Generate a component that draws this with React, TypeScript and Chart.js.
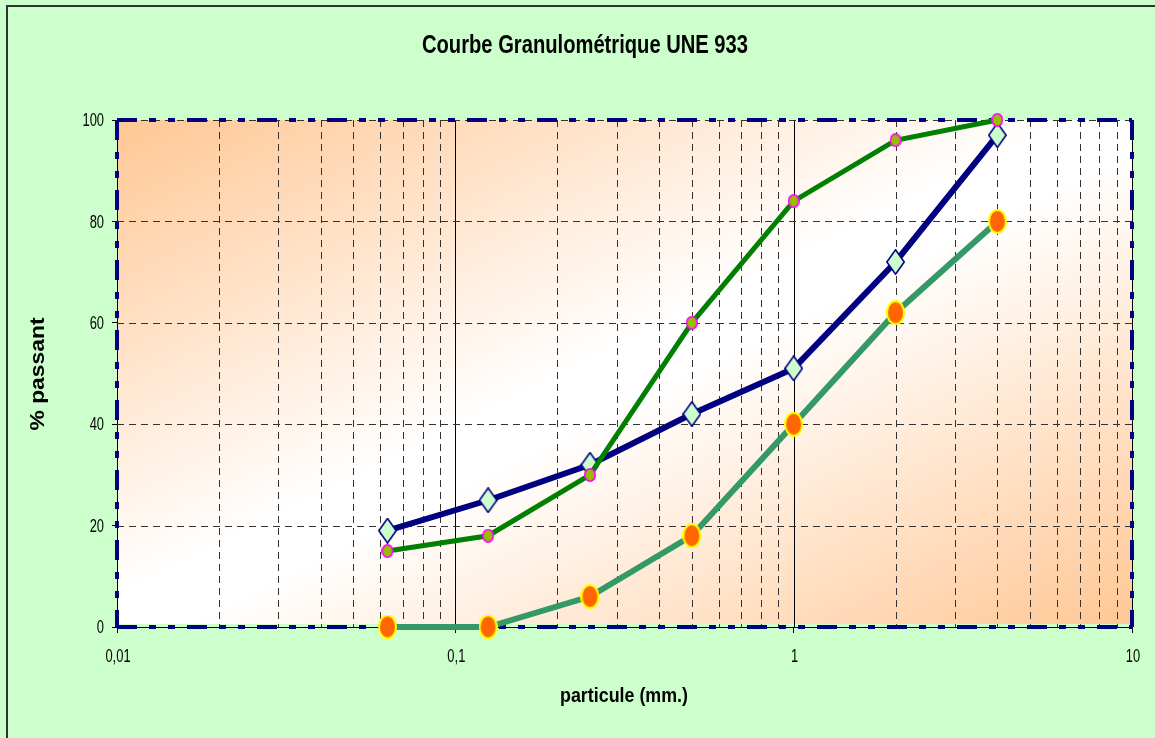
import React, { useEffect, useRef } from 'react';
import { Chart, registerables } from 'chart.js';

Chart.register(...registerables);

// ---- data ----
const sieveSizes = [0.063, 0.125, 0.25, 0.5, 1, 2, 4];
const seriesNavy = [19, 25, 32, 42, 51, 72, 97];
const seriesGreen = [15, 18, 30, 60, 84, 96, 100];
const seriesOrange = [0, 0, 6, 18, 40, 62, 80];

const xTickValues = [
  0.01, 0.02, 0.03, 0.04, 0.05, 0.06, 0.07, 0.08, 0.09,
  0.1, 0.2, 0.3, 0.4, 0.5, 0.6, 0.7, 0.8, 0.9,
  1, 2, 3, 4, 5, 6, 7, 8, 9,
  10,
];
const xDecades = [0.01, 0.1, 1, 10];
const xDecadeLabels = ['0,01', '0,1', '1', '10'];
const yTickValues = [0, 20, 40, 60, 80, 100];

const titleText = 'Courbe Granulométrique UNE 933';
const xTitleText = 'particule (mm.)';
const yTitleText = '% passant';

const decadeIndex = (v: number) => xDecades.findIndex((d) => Math.abs(v - d) / d < 1e-6);

const LABEL_FONT = '19px "Liberation Sans", Arial, sans-serif';
const LABEL_SQUEEZE = 0.68;

function makeMarker(w: number, h: number, kind: 'diamond' | 'ellipse', fill: string, stroke: string, lw: number) {
  const c = document.createElement('canvas');
  c.width = w;
  c.height = h;
  const ctx = c.getContext('2d')!;
  ctx.beginPath();
  if (kind === 'diamond') {
    ctx.moveTo(w / 2, lw / 2);
    ctx.lineTo(w - lw / 2, h / 2);
    ctx.lineTo(w / 2, h - lw / 2);
    ctx.lineTo(lw / 2, h / 2);
    ctx.closePath();
  } else {
    ctx.ellipse(w / 2, h / 2, w / 2 - lw / 2, h / 2 - lw / 2, 0, 0, Math.PI * 2);
  }
  ctx.fillStyle = fill;
  ctx.fill();
  ctx.lineWidth = lw;
  ctx.strokeStyle = stroke;
  ctx.stroke();
  return c;
}

function drawScaledText(
  ctx: CanvasRenderingContext2D,
  text: string,
  x: number,
  y: number,
  font: string,
  targetWidth: number,
  rotate = false
) {
  ctx.save();
  ctx.translate(x, y);
  if (rotate) ctx.rotate(-Math.PI / 2);
  ctx.font = font;
  const m = ctx.measureText(text).width;
  ctx.scale(targetWidth / m, 1);
  ctx.textAlign = 'center';
  ctx.textBaseline = 'alphabetic';
  ctx.fillStyle = '#000';
  ctx.fillText(text, 0, 0);
  ctx.restore();
}

function drawSqueezed(
  ctx: CanvasRenderingContext2D,
  text: string,
  x: number,
  y: number,
  align: 'center' | 'right',
  baseline: 'middle' | 'alphabetic'
) {
  ctx.save();
  ctx.translate(x, y);
  ctx.scale(LABEL_SQUEEZE, 1);
  ctx.font = LABEL_FONT;
  ctx.textAlign = align;
  ctx.textBaseline = baseline;
  ctx.fillStyle = '#000';
  ctx.fillText(text, 0, 0);
  ctx.restore();
}

const decorPlugin = {
  id: 'decor',
  beforeDraw(chart: any) {
    const { ctx, width, height, chartArea: a } = chart;
    ctx.save();
    ctx.fillStyle = '#CCFFCC';
    ctx.fillRect(0, 0, width, height);
    ctx.strokeStyle = '#333333';
    ctx.lineWidth = 2;
    ctx.beginPath();
    ctx.moveTo(7, height);
    ctx.lineTo(7, 6);
    ctx.lineTo(width, 6);
    ctx.stroke();

    const w = a.right - a.left;
    const h = a.bottom - a.top;
    const cx = (a.left + a.right) / 2;
    const cy = (a.top + a.bottom) / 2;
    const L = Math.hypot(w, h);
    const ux = h / L;
    const uy = w / L;
    const d = (w * h) / L;
    const g = ctx.createLinearGradient(cx - ux * d, cy - uy * d, cx + ux * d, cy + uy * d);
    g.addColorStop(0, '#FFC794');
    g.addColorStop(0.47, '#FFFFFF');
    g.addColorStop(0.53, '#FFFFFF');
    g.addColorStop(1, '#FFC794');
    ctx.fillStyle = g;
    ctx.fillRect(a.left, a.top, w, h - 3);
    ctx.restore();
  },
  beforeDatasetsDraw(chart: any) {
    const { ctx, chartArea: a, scales } = chart;
    const xs = scales.x;
    const ys = scales.y;
    ctx.save();
    ctx.lineWidth = 1;
    for (const v of xTickValues) {
      const px = Math.round(xs.getPixelForValue(v)) + 0.5;
      const dec = decadeIndex(v) >= 0;
      ctx.setLineDash(dec ? [] : [7, 5]);
      ctx.strokeStyle = dec ? '#000000' : '#333333';
      ctx.beginPath();
      ctx.moveTo(px, a.top);
      ctx.lineTo(px, a.bottom);
      ctx.stroke();
    }
    for (const v of yTickValues) {
      if (v === 0) continue;
      const py = Math.round(ys.getPixelForValue(v)) + 0.5;
      ctx.setLineDash([7, 5]);
      ctx.strokeStyle = '#333333';
      ctx.beginPath();
      ctx.moveTo(a.left, py);
      ctx.lineTo(a.right, py);
      ctx.stroke();
    }
    // navy dash-dot-dot plot border
    ctx.setLineDash([20, 12, 7, 12, 7, 12]);
    ctx.lineWidth = 4;
    ctx.strokeStyle = '#000080';
    const side = (x1: number, y1: number, x2: number, y2: number) => {
      ctx.beginPath();
      ctx.moveTo(x1, y1);
      ctx.lineTo(x2, y2);
      ctx.stroke();
    };
    side(a.left, a.top, a.right, a.top);
    side(a.left, a.bottom, a.right, a.bottom);
    side(a.left, a.top, a.left, a.bottom);
    side(a.right, a.top, a.right, a.bottom);
    ctx.restore();
  },
  afterDraw(chart: any) {
    const { ctx, chartArea: a, scales } = chart;
    // tick labels (condensed, drawn at the library's tick pixels)
    for (let i = 0; i < xDecades.length; i++) {
      const px = scales.x.getPixelForValue(xDecades[i]);
      drawSqueezed(ctx, xDecadeLabels[i], px + 1, 662, 'center', 'alphabetic');
    }
    for (const v of yTickValues) {
      const py = scales.y.getPixelForValue(v);
      drawSqueezed(ctx, String(v), a.left - 13, py + 1, 'right', 'middle');
    }
    drawScaledText(ctx, titleText, 585, 53, 'bold 25px "Liberation Sans", Arial, sans-serif', 326);
    drawScaledText(ctx, xTitleText, 624, 702, 'bold 20px "Liberation Sans", Arial, sans-serif', 128);
    drawScaledText(ctx, yTitleText, 44, 374, 'bold 20px "Liberation Sans", Arial, sans-serif', 113, true);
  },
};

export default function App() {
  const canvasRef = useRef<HTMLCanvasElement | null>(null);

  useEffect(() => {
    if (!canvasRef.current) return;
    const diamond = makeMarker(19, 26, 'diamond', '#CCFFCC', '#000080', 1.6);
    const greenDot = makeMarker(12, 14, 'ellipse', '#99BB00', '#FF00FF', 1.6);
    const orangeDot = makeMarker(19, 25, 'ellipse', '#FF6600', '#FFFF00', 2);

    const toPoints = (vals: number[]) => sieveSizes.map((s, i) => ({ x: s, y: vals[i] }));

    const chart = new Chart(canvasRef.current, {
      type: 'scatter',
      data: {
        datasets: [
          {
            label: 'A',
            data: toPoints(seriesNavy),
            showLine: true,
            borderColor: '#000080',
            borderWidth: 6,
            pointStyle: diamond as any,
            pointRadius: 6,
            order: 1,
            clip: false as any,
          },
          {
            label: 'B',
            data: toPoints(seriesGreen),
            showLine: true,
            borderColor: '#008000',
            borderWidth: 5,
            pointStyle: greenDot as any,
            pointRadius: 6,
            order: 0,
            clip: false as any,
          },
          {
            label: 'C',
            data: toPoints(seriesOrange),
            showLine: true,
            borderColor: '#339966',
            borderWidth: 6,
            pointStyle: orangeDot as any,
            pointRadius: 6,
            order: 2,
            clip: false as any,
          },
        ],
      },
      options: {
        animation: false,
        responsive: false,
        devicePixelRatio: 1,
        events: [],
        layout: { padding: { top: 120, right: 23, left: 0, bottom: 0 } },
        plugins: {
          legend: { display: false },
          tooltip: { enabled: false },
          title: { display: false },
        },
        scales: {
          x: {
            type: 'logarithmic',
            min: 0.01,
            max: 10,
            afterBuildTicks: (scale: any) => {
              scale.ticks = xTickValues.map((v) => ({ value: v }));
            },
            afterFit: (scale: any) => {
              scale.height = 111;
            },
            ticks: {
              display: false,
              autoSkip: false,
              maxRotation: 0,
              minRotation: 0,
            },
            grid: {
              drawOnChartArea: false,
              drawTicks: true,
              tickLength: 6,
              color: (c: any) => (c.tick && decadeIndex(c.tick.value) >= 0 ? '#000000' : 'rgba(0,0,0,0)'),
            },
            border: { display: true, color: '#000000', width: 1 },
          },
          y: {
            type: 'linear',
            min: 0,
            max: 100,
            afterBuildTicks: (scale: any) => {
              scale.ticks = yTickValues.map((v) => ({ value: v }));
            },
            afterFit: (scale: any) => {
              scale.width = 117;
            },
            ticks: { display: false },
            grid: {
              drawOnChartArea: false,
              drawTicks: true,
              tickLength: 5,
              color: '#000000',
            },
            border: { display: true, color: '#000000', width: 1 },
          },
        },
      },
      plugins: [decorPlugin],
    } as any);

    return () => chart.destroy();
  }, []);

  return (
    <canvas
      ref={canvasRef}
      width={1155}
      height={738}
      style={{ position: 'absolute', left: 0, top: 0, display: 'block' }}
    />
  );
}
